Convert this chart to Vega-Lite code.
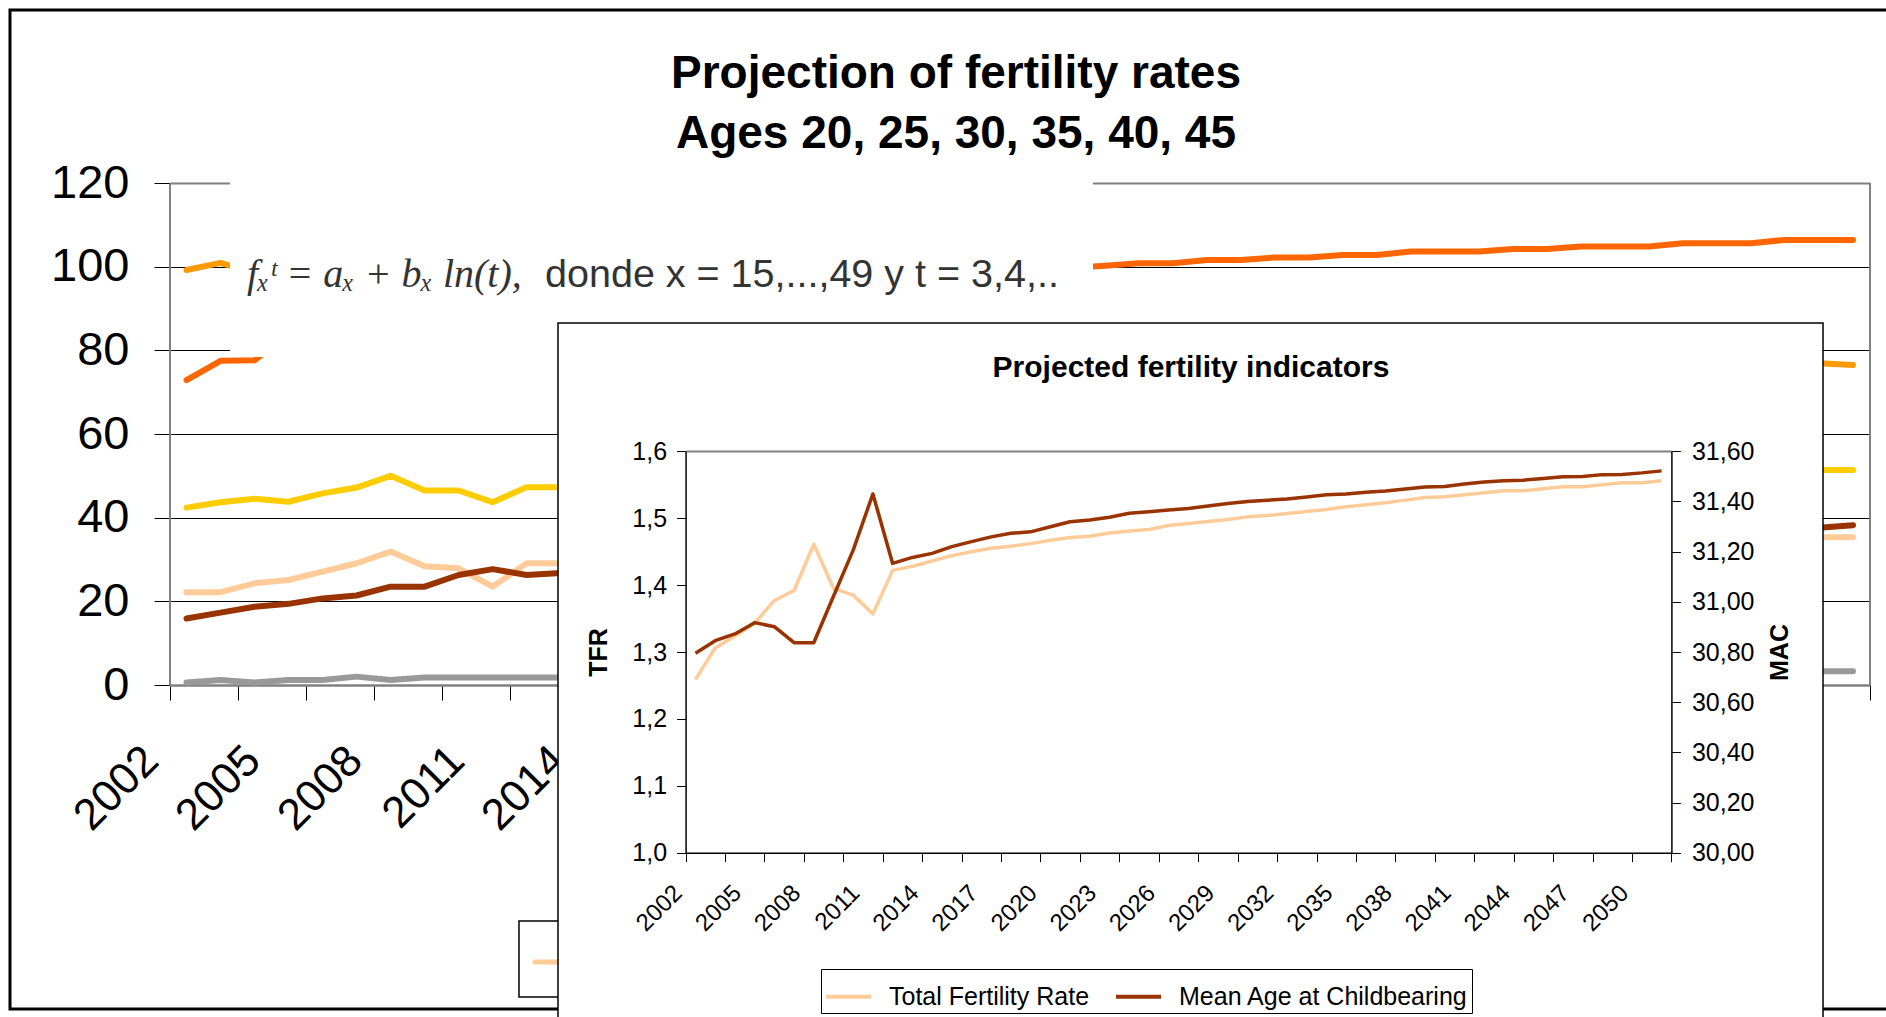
{
  "$schema": "https://vega.github.io/schema/vega-lite/v6.json",
  "width": 1886,
  "height": 1017,
  "autosize": {"type": "none"},
  "padding": 0,
  "background": "white",
  "title": {
    "text": ["Projection of fertility rates", "Ages 20, 25, 30, 35, 40, 45"],
    "font": "Liberation Sans", "fontSize": 46, "fontWeight": "bold", "color": "black",
    "anchor": "middle", "frame": "group", "offset": 0, "dy": 158, "dx": 13, "lineHeight": 60
  },
  "config": {
    "view": {"stroke": null},
    "axis": {"labelFont": "Liberation Sans", "titleFont": "Liberation Sans", "labelColor": "black", "titleColor": "black"},
    "text": {"font": "Liberation Sans"}
  },
  "datasets": {
    "labels": [
      {"year": 2002}, {"year": 2005}, {"year": 2008}, {"year": 2011}, {"year": 2014}, {"year": 2017},
      {"year": 2020}, {"year": 2023}, {"year": 2026}, {"year": 2029}, {"year": 2032}, {"year": 2035},
      {"year": 2038}, {"year": 2041}, {"year": 2044}, {"year": 2047}, {"year": 2050}
    ],
    "main": [
      {"year": 2002, "20": 22.2, "25": 42.4, "30": 99.2, "35": 72.9, "40": 15.9, "45": 0.6},
      {"year": 2003, "20": 22.2, "25": 43.7, "30": 100.9, "35": 77.5, "40": 17.3, "45": 1.2},
      {"year": 2004, "20": 24.3, "25": 44.5, "30": 98.5, "35": 77.6, "40": 18.7, "45": 0.6},
      {"year": 2005, "20": 25.1, "25": 43.8, "30": 97.5, "35": 84.0, "40": 19.4, "45": 1.2},
      {"year": 2006, "20": 27.1, "25": 45.8, "30": 96.5, "35": 86.0, "40": 20.7, "45": 1.2},
      {"year": 2007, "20": 29.1, "25": 47.2, "30": 95.5, "35": 87.7, "40": 21.4, "45": 2.0},
      {"year": 2008, "20": 31.9, "25": 50.0, "30": 94.5, "35": 89.0, "40": 23.5, "45": 1.2},
      {"year": 2009, "20": 28.4, "25": 46.5, "30": 93.5, "35": 90.2, "40": 23.5, "45": 1.8},
      {"year": 2010, "20": 27.9, "25": 46.5, "30": 92.6, "35": 91.2, "40": 26.3, "45": 1.8},
      {"year": 2011, "20": 23.5, "25": 43.7, "30": 91.7, "35": 92.1, "40": 27.7, "45": 1.8},
      {"year": 2012, "20": 29.1, "25": 47.3, "30": 90.9, "35": 92.9, "40": 26.3, "45": 1.8},
      {"year": 2013, "20": 29.1, "25": 47.3, "30": 90.1, "35": 93.6, "40": 26.8, "45": 1.8},
      {"year": 2014, "20": 29.4, "25": 47.5, "30": 89.3, "35": 94.2, "40": 27.3, "45": 1.9},
      {"year": 2015, "20": 29.7, "25": 47.7, "30": 88.6, "35": 94.8, "40": 27.8, "45": 1.9},
      {"year": 2016, "20": 30.0, "25": 47.9, "30": 87.9, "35": 95.3, "40": 28.3, "45": 2.0},
      {"year": 2017, "20": 30.3, "25": 48.1, "30": 87.2, "35": 95.8, "40": 28.8, "45": 2.0},
      {"year": 2018, "20": 30.6, "25": 48.3, "30": 86.6, "35": 96.3, "40": 29.3, "45": 2.1},
      {"year": 2019, "20": 30.8, "25": 48.5, "30": 86.0, "35": 96.7, "40": 29.7, "45": 2.1},
      {"year": 2020, "20": 31.0, "25": 48.7, "30": 85.4, "35": 97.1, "40": 30.1, "45": 2.2},
      {"year": 2021, "20": 31.3, "25": 48.8, "30": 84.8, "35": 97.5, "40": 30.5, "45": 2.2},
      {"year": 2022, "20": 31.5, "25": 49.0, "30": 84.3, "35": 97.9, "40": 30.9, "45": 2.3},
      {"year": 2023, "20": 31.7, "25": 49.1, "30": 83.8, "35": 98.3, "40": 31.3, "45": 2.3},
      {"year": 2024, "20": 31.9, "25": 49.3, "30": 83.3, "35": 98.6, "40": 31.6, "45": 2.4},
      {"year": 2025, "20": 32.1, "25": 49.4, "30": 82.8, "35": 98.9, "40": 32.0, "45": 2.4},
      {"year": 2026, "20": 32.3, "25": 49.5, "30": 82.4, "35": 99.2, "40": 32.3, "45": 2.5},
      {"year": 2027, "20": 32.5, "25": 49.7, "30": 82.0, "35": 99.5, "40": 32.6, "45": 2.5},
      {"year": 2028, "20": 32.7, "25": 49.8, "30": 81.6, "35": 99.7, "40": 32.9, "45": 2.6},
      {"year": 2029, "20": 32.9, "25": 49.9, "30": 81.2, "35": 100.2, "40": 33.2, "45": 2.6},
      {"year": 2030, "20": 33.0, "25": 50.0, "30": 80.9, "35": 100.8, "40": 33.5, "45": 2.7},
      {"year": 2031, "20": 33.2, "25": 50.1, "30": 80.6, "35": 100.8, "40": 33.8, "45": 2.7},
      {"year": 2032, "20": 33.4, "25": 50.2, "30": 80.3, "35": 101.6, "40": 34.0, "45": 2.8},
      {"year": 2033, "20": 33.5, "25": 50.3, "30": 80.0, "35": 101.6, "40": 34.3, "45": 2.8},
      {"year": 2034, "20": 33.7, "25": 50.4, "30": 79.7, "35": 102.2, "40": 34.5, "45": 2.8},
      {"year": 2035, "20": 33.8, "25": 50.5, "30": 79.4, "35": 102.2, "40": 34.8, "45": 2.9},
      {"year": 2036, "20": 34.0, "25": 50.6, "30": 79.2, "35": 102.8, "40": 35.0, "45": 2.9},
      {"year": 2037, "20": 34.1, "25": 50.7, "30": 78.9, "35": 102.8, "40": 35.2, "45": 2.9},
      {"year": 2038, "20": 34.2, "25": 50.7, "30": 78.7, "35": 103.6, "40": 35.4, "45": 3.0},
      {"year": 2039, "20": 34.4, "25": 50.8, "30": 78.5, "35": 103.6, "40": 35.6, "45": 3.0},
      {"year": 2040, "20": 34.5, "25": 50.9, "30": 78.3, "35": 103.6, "40": 35.8, "45": 3.0},
      {"year": 2041, "20": 34.6, "25": 50.9, "30": 78.1, "35": 104.2, "40": 36.0, "45": 3.1},
      {"year": 2042, "20": 34.7, "25": 51.0, "30": 77.9, "35": 104.2, "40": 36.2, "45": 3.1},
      {"year": 2043, "20": 34.8, "25": 51.0, "30": 77.7, "35": 104.8, "40": 36.4, "45": 3.1},
      {"year": 2044, "20": 34.9, "25": 51.1, "30": 77.6, "35": 104.8, "40": 36.6, "45": 3.2},
      {"year": 2045, "20": 35.0, "25": 51.1, "30": 77.4, "35": 104.8, "40": 36.7, "45": 3.2},
      {"year": 2046, "20": 35.0, "25": 51.2, "30": 77.3, "35": 105.6, "40": 36.9, "45": 3.2},
      {"year": 2047, "20": 35.1, "25": 51.2, "30": 77.2, "35": 105.6, "40": 37.0, "45": 3.2},
      {"year": 2048, "20": 35.2, "25": 51.3, "30": 77.1, "35": 105.6, "40": 37.2, "45": 3.3},
      {"year": 2049, "20": 35.2, "25": 51.3, "30": 77.0, "35": 106.4, "40": 37.4, "45": 3.3},
      {"year": 2050, "20": 35.3, "25": 51.4, "30": 76.9, "35": 106.4, "40": 37.6, "45": 3.3},
      {"year": 2051, "20": 35.3, "25": 51.4, "30": 76.5, "35": 106.4, "40": 38.2, "45": 3.3}
    ],
    "inset": [
      {"year": 2002, "tfr": 1.259, "mac": 30.795},
      {"year": 2003, "tfr": 1.306, "mac": 30.845},
      {"year": 2004, "tfr": 1.324, "mac": 30.872},
      {"year": 2005, "tfr": 1.343, "mac": 30.917},
      {"year": 2006, "tfr": 1.377, "mac": 30.901},
      {"year": 2007, "tfr": 1.392, "mac": 30.837},
      {"year": 2008, "tfr": 1.461, "mac": 30.837},
      {"year": 2009, "tfr": 1.395, "mac": 31.022},
      {"year": 2010, "tfr": 1.385, "mac": 31.206},
      {"year": 2011, "tfr": 1.357, "mac": 31.43},
      {"year": 2012, "tfr": 1.422, "mac": 31.153},
      {"year": 2013, "tfr": 1.428, "mac": 31.177},
      {"year": 2014, "tfr": 1.436, "mac": 31.193},
      {"year": 2015, "tfr": 1.444, "mac": 31.22},
      {"year": 2016, "tfr": 1.45, "mac": 31.24},
      {"year": 2017, "tfr": 1.455, "mac": 31.259},
      {"year": 2018, "tfr": 1.458, "mac": 31.273},
      {"year": 2019, "tfr": 1.462, "mac": 31.279},
      {"year": 2020, "tfr": 1.467, "mac": 31.299},
      {"year": 2021, "tfr": 1.471, "mac": 31.319},
      {"year": 2022, "tfr": 1.473, "mac": 31.326},
      {"year": 2023, "tfr": 1.478, "mac": 31.337},
      {"year": 2024, "tfr": 1.481, "mac": 31.353},
      {"year": 2025, "tfr": 1.483, "mac": 31.359},
      {"year": 2026, "tfr": 1.489, "mac": 31.366},
      {"year": 2027, "tfr": 1.492, "mac": 31.372},
      {"year": 2028, "tfr": 1.495, "mac": 31.382},
      {"year": 2029, "tfr": 1.498, "mac": 31.392},
      {"year": 2030, "tfr": 1.502, "mac": 31.4},
      {"year": 2031, "tfr": 1.504, "mac": 31.405},
      {"year": 2032, "tfr": 1.507, "mac": 31.41},
      {"year": 2033, "tfr": 1.51, "mac": 31.418},
      {"year": 2034, "tfr": 1.513, "mac": 31.427},
      {"year": 2035, "tfr": 1.517, "mac": 31.43},
      {"year": 2036, "tfr": 1.52, "mac": 31.437},
      {"year": 2037, "tfr": 1.523, "mac": 31.442},
      {"year": 2038, "tfr": 1.527, "mac": 31.45},
      {"year": 2039, "tfr": 1.531, "mac": 31.458},
      {"year": 2040, "tfr": 1.532, "mac": 31.46},
      {"year": 2041, "tfr": 1.535, "mac": 31.47},
      {"year": 2042, "tfr": 1.538, "mac": 31.478},
      {"year": 2043, "tfr": 1.541, "mac": 31.483},
      {"year": 2044, "tfr": 1.541, "mac": 31.485},
      {"year": 2045, "tfr": 1.544, "mac": 31.492},
      {"year": 2046, "tfr": 1.547, "mac": 31.499},
      {"year": 2047, "tfr": 1.547, "mac": 31.5},
      {"year": 2048, "tfr": 1.55, "mac": 31.507},
      {"year": 2049, "tfr": 1.553, "mac": 31.508},
      {"year": 2050, "tfr": 1.553, "mac": 31.514},
      {"year": 2051, "tfr": 1.556, "mac": 31.522}
    ]
  },
  "layer": [
    {
      "layer": [
        {
          "data": {"values": [{}]},
          "mark": {"type": "rect", "filled": false, "stroke": "black", "strokeWidth": 3},
          "encoding": {
            "x": {"datum": 1996.81, "type": "quantitative", "scale": {"domain": [2001.5, 2051.5], "range": [169.5, 1870], "nice": false, "zero": false}},
            "x2": {"datum": 2052.3},
            "y": {"datum": 161.37, "type": "quantitative", "scale": {"domain": [0, 120], "range": [685, 183], "nice": false, "zero": false}},
            "y2": {"datum": -77.46}
          }
        },
        {
          "data": {"values": [{}]},
          "mark": {"type": "rule", "stroke": "#808080", "strokeWidth": 2},
          "encoding": {
            "x": {"datum": 2051.5, "type": "quantitative", "scale": {"domain": [2001.5, 2051.5], "range": [169.5, 1870], "nice": false, "zero": false}},
            "y": {"datum": 0, "type": "quantitative", "scale": {"domain": [0, 120], "range": [685, 183], "nice": false, "zero": false}},
            "y2": {"datum": 120}
          }
        },
        {
          "data": {"name": "main"},
          "transform": [{"fold": ["20", "25", "30", "35", "40", "45"], "as": ["age", "rate"]}],
          "mark": {"type": "line", "strokeWidth": 6, "strokeCap": "round", "strokeJoin": "round"},
          "encoding": {
            "x": {
              "field": "year", "type": "quantitative",
              "scale": {"domain": [2001.5, 2051.5], "range": [169.5, 1870], "nice": false, "zero": false},
              "axis": {
                "orient": "bottom", "offset": -332, "title": null,
                "values": [2001.5,2002.5,2003.5,2004.5,2005.5,2006.5,2007.5,2008.5,2009.5,2010.5,2011.5,2012.5,2013.5,2014.5,2015.5,2016.5,2017.5,2018.5,2019.5,2020.5,2021.5,2022.5,2023.5,2024.5,2025.5,2026.5,2027.5,2028.5,2029.5,2030.5,2031.5,2032.5,2033.5,2034.5,2035.5,2036.5,2037.5,2038.5,2039.5,2040.5,2041.5,2042.5,2043.5,2044.5,2045.5,2046.5,2047.5,2048.5,2049.5,2050.5,2051.5],
                "labels": false,
                "tickSize": 15, "tickColor": "black", "tickWidth": 1,
                "domainColor": "#808080", "domainWidth": 2.5,
                "grid": false
              }
            },
            "y": {
              "field": "rate", "type": "quantitative",
              "scale": {"domain": [0, 120], "range": [685, 183], "nice": false, "zero": false},
              "axis": {
                "orient": "left", "offset": -169.5, "title": null,
                "values": [0, 20, 40, 60, 80, 100, 120],
                "labelFontSize": 47, "labelPadding": 25,
                "tickSize": 15.5, "tickColor": "black",
                "domainColor": "#808080", "domainWidth": 2,
                "grid": true,
                "gridColor": {"condition": {"test": "datum.value == 120", "value": "#808080"}, "value": "black"},
                "gridWidth": {"condition": {"test": "datum.value == 120", "value": 2}, "value": 1}
              }
            },
            "color": {
              "field": "age", "type": "nominal",
              "scale": {"domain": ["20", "25", "30", "35", "40", "45"], "range": ["#FFCC99", "#FFCC00", "#FF9900", "#FF6600", "#993300", "#999999"]},
              "legend": null
            }
          }
        },
        {
          "data": {"values": [{}]},
          "mark": {"type": "rect", "fill": "white", "stroke": null},
          "encoding": {
            "x": {"datum": 2003.279, "type": "quantitative", "scale": {"domain": [2001.5, 2051.5], "range": [169.5, 1870], "nice": false, "zero": false}},
            "x2": {"datum": 2028.654},
            "y": {"datum": 121.92, "type": "quantitative", "scale": {"domain": [0, 120], "range": [685, 183], "nice": false, "zero": false}},
            "y2": {"datum": 78.41}
          }
        },
        {
          "data": {"values": [{}]},
          "mark": {"type": "text", "text": "fₓᵗ = aₓ + bₓ ln(t),", "font": "Liberation Serif", "fontStyle": "italic", "fontSize": 40, "align": "left", "baseline": "alphabetic", "color": "#333333"},
          "encoding": {
            "x": {"datum": 2003.779, "type": "quantitative", "scale": {"domain": [2001.5, 2051.5], "range": [169.5, 1870], "nice": false, "zero": false}},
            "y": {"datum": 95.15, "type": "quantitative", "scale": {"domain": [0, 120], "range": [685, 183], "nice": false, "zero": false}}
          }
        },
        {
          "data": {"values": [{}]},
          "mark": {"type": "text", "text": "donde  x = 15,...,49  y  t = 3,4,..", "font": "Liberation Sans", "fontSize": 39.5, "align": "left", "baseline": "alphabetic", "color": "#333333"},
          "encoding": {
            "x": {"datum": 2012.541, "type": "quantitative", "scale": {"domain": [2001.5, 2051.5], "range": [169.5, 1870], "nice": false, "zero": false}},
            "y": {"datum": 95.15, "type": "quantitative", "scale": {"domain": [0, 120], "range": [685, 183], "nice": false, "zero": false}}
          }
        },
        {
          "data": {"values": [{}]},
          "mark": {"type": "rect", "fill": "white", "stroke": "black", "strokeWidth": 1.5},
          "encoding": {
            "x": {"datum": 2011.776, "type": "quantitative", "scale": {"domain": [2001.5, 2051.5], "range": [169.5, 1870], "nice": false, "zero": false}},
            "x2": {"datum": 2020},
            "y": {"datum": -56.42, "type": "quantitative", "scale": {"domain": [0, 120], "range": [685, 183], "nice": false, "zero": false}},
            "y2": {"datum": -74.59}
          }
        },
        {
          "data": {"values": [{}]},
          "mark": {"type": "rule", "stroke": "#FFCC99", "strokeWidth": 5, "strokeCap": "round"},
          "encoding": {
            "x": {"datum": 2012.246, "type": "quantitative", "scale": {"domain": [2001.5, 2051.5], "range": [169.5, 1870], "nice": false, "zero": false}},
            "x2": {"datum": 2020},
            "y": {"datum": -66.22, "type": "quantitative", "scale": {"domain": [0, 120], "range": [685, 183], "nice": false, "zero": false}}
          }
        }
      ]
    },
    {
      "data": {"name": "labels"},
      "mark": {"type": "text", "angle": -45, "align": "right", "baseline": "middle", "fontSize": 44, "font": "Liberation Sans", "color": "black"},
      "encoding": {
        "x": {"field": "year", "type": "quantitative", "scale": {"domain": [2002.529, 2052.529], "range": [169.5, 1870], "nice": false, "zero": false}, "axis": null},
        "y": {"datum": -16.5, "type": "quantitative", "scale": {"domain": [0, 120], "range": [685, 183], "nice": false, "zero": false}, "axis": null},
        "text": {"field": "year", "type": "nominal"}
      }
    },
    {
      "layer": [
        {
          "layer": [
            {
              "data": {"values": [{}]},
              "mark": {"type": "rect", "fill": "white", "stroke": "black", "strokeWidth": 1.5},
              "encoding": {
                "x": {"datum": 1995.028, "type": "quantitative", "scale": {"domain": [2001.5, 2051.5], "range": [685.6, 1671.4], "nice": false, "zero": false}},
                "x2": {"datum": 2059.19},
                "y": {"datum": 1.7918, "type": "quantitative", "scale": {"domain": [1, 1.6], "range": [852.7, 451.3], "nice": false, "zero": false}},
                "y2": {"datum": 0.7425}
              }
            },
            {
              "data": {"name": "inset"},
              "mark": {"type": "line", "strokeWidth": 3.5, "strokeJoin": "round"},
              "encoding": {
                "x": {
                  "field": "year", "type": "quantitative",
                  "scale": {"domain": [2001.5, 2051.5], "range": [685.6, 1671.4], "nice": false, "zero": false},
                  "axis": {
                    "orient": "bottom", "offset": -164.3, "title": null, "zindex": 1,
                    "values": [2001.5,2002.5,2003.5,2004.5,2005.5,2006.5,2007.5,2008.5,2009.5,2010.5,2011.5,2012.5,2013.5,2014.5,2015.5,2016.5,2017.5,2018.5,2019.5,2020.5,2021.5,2022.5,2023.5,2024.5,2025.5,2026.5,2027.5,2028.5,2029.5,2030.5,2031.5,2032.5,2033.5,2034.5,2035.5,2036.5,2037.5,2038.5,2039.5,2040.5,2041.5,2042.5,2043.5,2044.5,2045.5,2046.5,2047.5,2048.5,2049.5,2050.5,2051.5],
                    "labels": false,
                    "tickSize": 9, "tickColor": "black", "tickWidth": 1,
                    "domainColor": "black", "domainWidth": 1.5, "grid": false
                  }
                },
                "y": {
                  "field": "tfr", "type": "quantitative",
                  "scale": {"domain": [1, 1.6], "range": [852.7, 451.3], "nice": false, "zero": false},
                  "axis": {
                    "orient": "left", "offset": -685.6, "zindex": 1,
                    "title": "TFR", "titleFontSize": 25, "titleFontWeight": "bold", "titlePadding": 20,
                    "values": [1, 1.1, 1.2, 1.3, 1.4, 1.5, 1.6],
                    "labelExpr": "replace(format(datum.value, '.1f'), '.', ',')",
                    "labelFontSize": 25, "labelPadding": 10,
                    "tickSize": 9, "tickColor": "black",
                    "domainColor": "black", "domainWidth": 1.5,
                    "grid": true, "gridColor": "#808080", "gridWidth": 2,
                    "gridOpacity": {"condition": {"test": "datum.value > 1.59", "value": 1}, "value": 0}
                  }
                },
                "color": {
                  "datum": "Total Fertility Rate",
                  "scale": {"domain": ["Total Fertility Rate", "Mean Age at Childbearing"], "range": ["#FFCC99", "#993300"]},
                  "legend": {
                    "orient": "none", "legendX": 821, "legendY": 969, "direction": "horizontal", "title": null,
                    "symbolType": "stroke", "symbolStrokeWidth": 4, "symbolSize": 2025,
                    "labelFontSize": 25, "labelFont": "Liberation Sans", "labelColor": "black", "labelLimit": 0,
                    "strokeColor": "black", "fillColor": "white", "padding": 3, "columnPadding": 18, "labelOffset": 16
                  }
                }
              }
            },
            {
              "data": {"values": [{}]},
              "mark": {"type": "text", "text": "Projected fertility indicators", "font": "Liberation Sans", "fontWeight": "bold", "fontSize": 30, "align": "center", "baseline": "alphabetic", "color": "black"},
              "encoding": {
                "x": {"datum": 2027.134, "type": "quantitative", "scale": {"domain": [2001.5, 2051.5], "range": [685.6, 1671.4], "nice": false, "zero": false}},
                "y": {"datum": 1.711, "type": "quantitative", "scale": {"domain": [1, 1.6], "range": [852.7, 451.3], "nice": false, "zero": false}}
              }
            }
          ]
        },
        {
          "data": {"name": "inset"},
          "mark": {"type": "line", "strokeWidth": 3.5, "strokeJoin": "round"},
          "encoding": {
            "x": {"field": "year", "type": "quantitative", "scale": {"domain": [2001.5, 2051.5], "range": [685.6, 1671.4], "nice": false, "zero": false}},
            "y": {
              "field": "mac", "type": "quantitative",
              "scale": {"domain": [30, 31.6], "range": [852.7, 451.3], "nice": false, "zero": false},
              "axis": {
                "orient": "right", "offset": -214.6, "zindex": 1,
                "title": "MAC", "titleFontSize": 25, "titleFontWeight": "bold", "titlePadding": 14, "titleAngle": 270, "titleBaseline": "top",
                "values": [30, 30.2, 30.4, 30.6, 30.8, 31, 31.2, 31.4, 31.6],
                "labelExpr": "replace(format(datum.value, '.2f'), '.', ',')",
                "labelFontSize": 25, "labelPadding": 11,
                "tickSize": 9, "tickColor": "black",
                "domainColor": "black", "domainWidth": 1.5, "grid": false
              }
            },
            "color": {
              "datum": "Mean Age at Childbearing",
              "scale": {"domain": ["Total Fertility Rate", "Mean Age at Childbearing"], "range": ["#FFCC99", "#993300"]}
            }
          }
        }
      ],
      "resolve": {"scale": {"y": "independent"}}
    },
    {
      "data": {"name": "labels"},
      "mark": {"type": "text", "angle": -45, "align": "right", "baseline": "middle", "fontSize": 24, "font": "Liberation Sans", "color": "black"},
      "encoding": {
        "x": {"field": "year", "type": "quantitative", "scale": {"domain": [2002.355, 2052.355], "range": [685.6, 1671.4], "nice": false, "zero": false}, "axis": null},
        "y": {"datum": 0.9447, "type": "quantitative", "scale": {"domain": [1, 1.6], "range": [852.7, 451.3], "nice": false, "zero": false}, "axis": null},
        "text": {"field": "year", "type": "nominal"}
      }
    }
  ],
  "resolve": {"scale": {"x": "independent", "y": "independent", "color": "independent"}}
}
